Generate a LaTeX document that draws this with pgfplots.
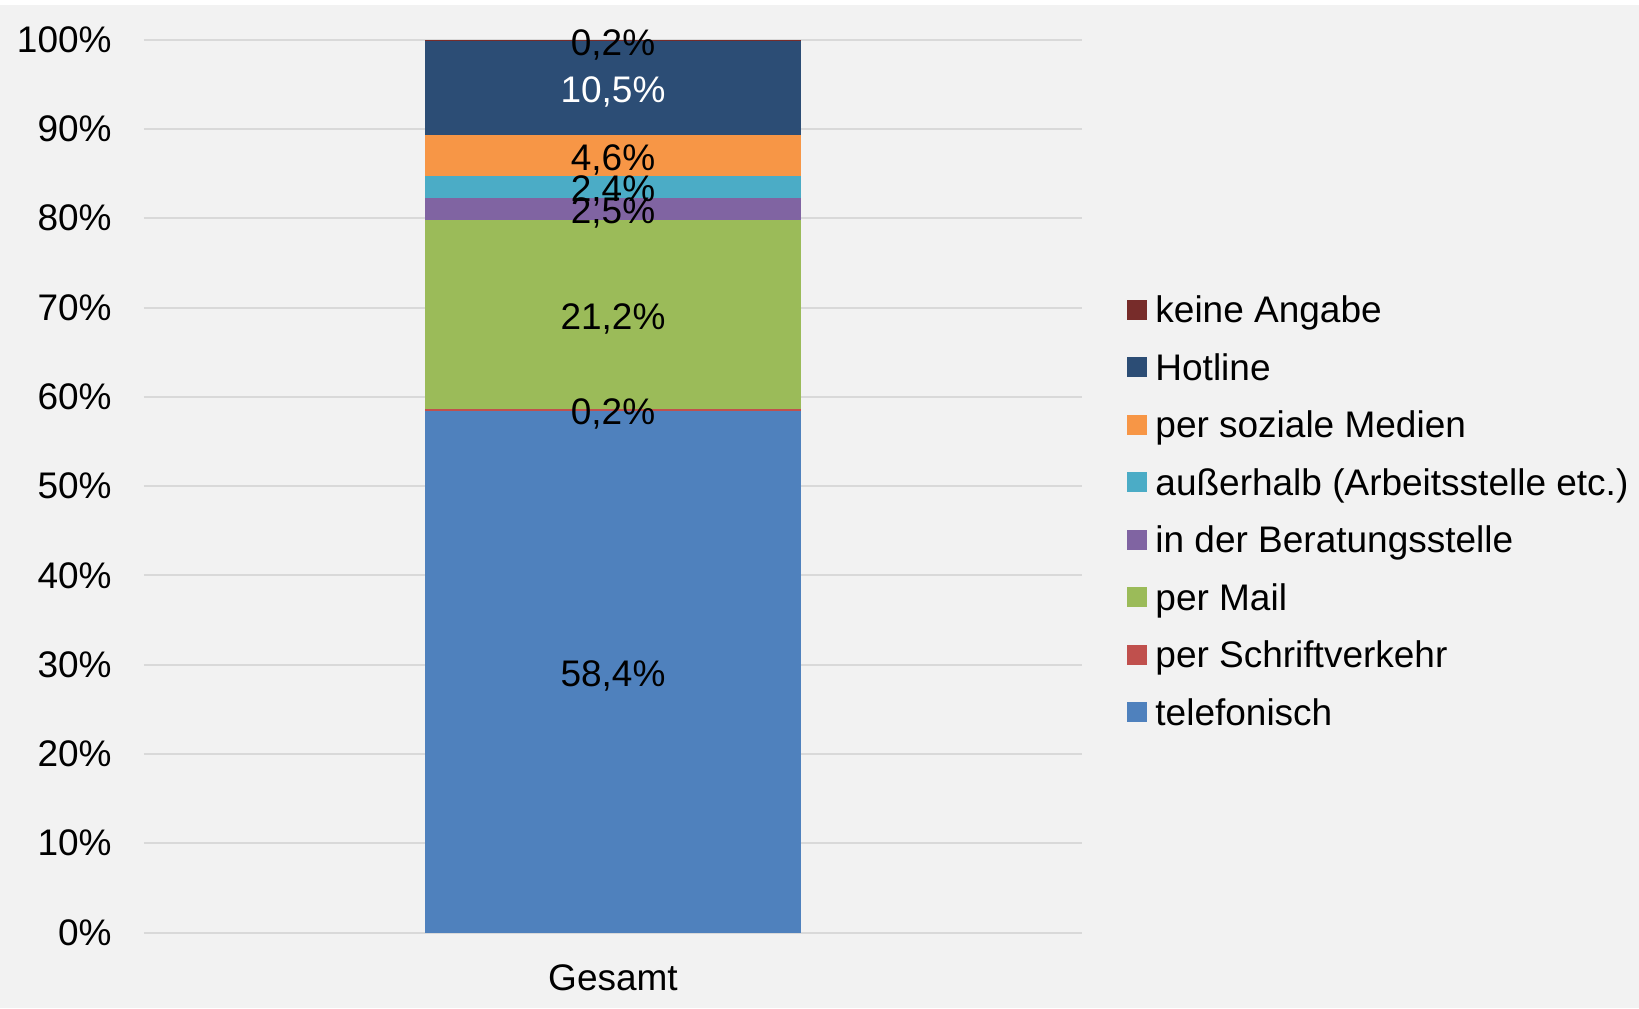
\documentclass[border=0pt]{standalone}
\usepackage{fontspec}
\setmainfont{Liberation Sans}
\usepackage{pgfplots}
\pgfplotsset{compat=1.18}

\definecolor{bgc}{HTML}{F2F2F2}
\definecolor{gridc}{HTML}{D9D9D9}
\definecolor{cTel}{HTML}{4F81BD}
\definecolor{cSchrift}{HTML}{C0504D}
\definecolor{cMail}{HTML}{9BBB59}
\definecolor{cBerat}{HTML}{8064A2}
\definecolor{cAusser}{HTML}{4BACC6}
\definecolor{cSozial}{HTML}{F79646}
\definecolor{cHotline}{HTML}{2C4D75}
\definecolor{cKeine}{HTML}{772C2A}

\newcommand\chartfont{\fontsize{18.5pt}{22pt}\selectfont}
% one stacked segment: value, fill colour, label colour
\newcommand\seg[3]{%
  \addplot[fill=#2, draw=none,
    every node near coord/.append style={text=#3, anchor=center, yshift=-2pt}]
    coordinates {(0,#1) [#1]};}

\begin{document}
\begin{tikzpicture}
  \fill[bgc] (0,0) rectangle (819.5pt,504pt);
  \fill[white] (0,501.5pt) rectangle (819.5pt,504pt);
  \begin{axis}[
      at={(72pt,37.75pt)}, anchor=south west,
      scale only axis,
      width=469pt, height=446.4pt,
      ybar stacked,
      bar width=187.6pt,
      xmin=-1, xmax=1,
      ymin=0, ymax=100,
      xtick={0}, xticklabels={Gesamt},
      ytick={0,10,...,100},
      yticklabel={\pgfmathprintnumber{\tick}\%},
      /pgf/number format/assume math mode=true,
      major tick length=0pt,
      axis line style={draw=none},
      ymajorgrids,
      major grid style={gridc, line width=1pt},
      tick label style={font=\chartfont, inner sep=0pt},
      yticklabel style={anchor=east, xshift=-16pt},
      xticklabel style={anchor=base, yshift=-28.75pt},
      point meta=explicit,
      nodes near coords={\pgfmathprintnumber[fixed,fixed zerofill,precision=1,use comma]{\pgfplotspointmeta}\%},
      every node near coord/.append style={font=\chartfont, inner sep=0pt},
      reverse legend,
      legend cell align=left,
      legend image code/.code={\fill[#1] (0pt,-5pt) rectangle (10pt,5pt);},
      legend style={at={(1.048,0.7172)}, anchor=north west, draw=none, fill=none,
        inner sep=0pt, font=\chartfont, row sep=11.55pt, column sep=4pt,
        nodes={inner sep=0pt, text height=15.2pt, text depth=2pt}},
    ]
    \seg{58.4}{cTel}{black}
    \seg{0.2}{cSchrift}{black}
    \seg{21.2}{cMail}{black}
    \seg{2.5}{cBerat}{black}
    \seg{2.4}{cAusser}{black}
    \seg{4.6}{cSozial}{black}
    \seg{10.5}{cHotline}{white}
    \seg{0.2}{cKeine}{black}
    \legend{telefonisch, per Schriftverkehr, per Mail, in der Beratungsstelle,
      außerhalb (Arbeitsstelle etc.), per soziale Medien, Hotline, keine Angabe}
  \end{axis}
  \pgfresetboundingbox
  \useasboundingbox (0,0) rectangle (819.5pt,504pt);
\end{tikzpicture}
\end{document}
